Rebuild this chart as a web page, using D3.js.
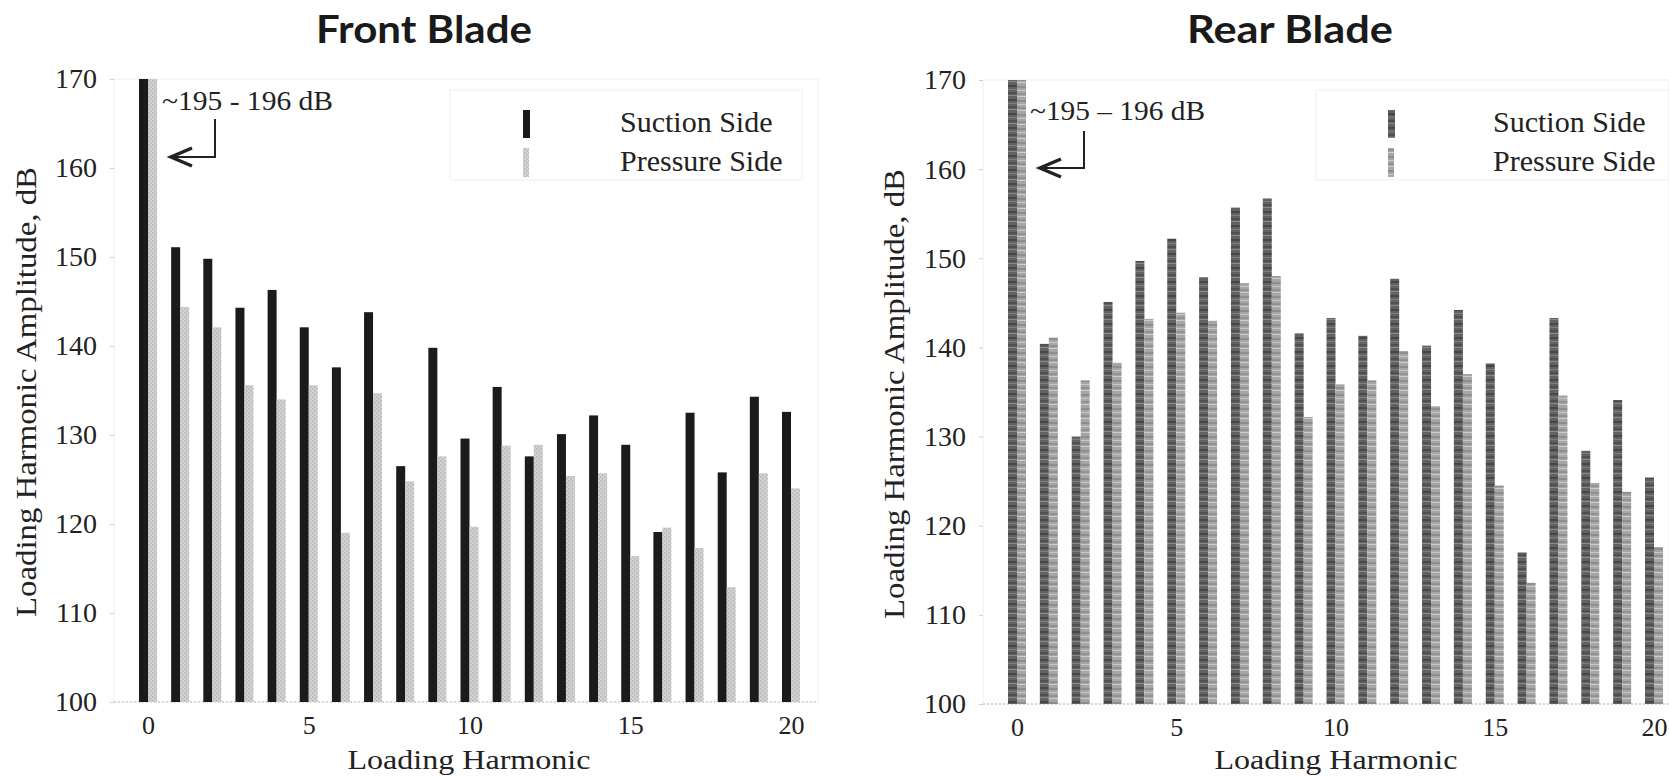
<!DOCTYPE html>
<html>
<head>
<meta charset="utf-8">
<script src="https://cdn.jsdelivr.net/npm/d3@7/dist/d3.min.js"></script>
<style>
  html, body { margin: 0; padding: 0; background: #fff; }
  svg { display: block; }
</style>
</head>
<body>
<svg id="chart" width="1669" height="776"></svg>
<script>
// ---- data ----
const harmonics = [0,1,2,3,4,5,6,7,8,9,10,11,12,13,14,15,16,17,18,19,20];
const xTickValues = [0, 5, 10, 15, 20];
const yTickValues = [100, 110, 120, 130, 140, 150, 160, 170];
const seriesNames = ["Suction Side", "Pressure Side"];
const panelTitles = ["Front Blade", "Rear Blade"];
const annotationTexts = ["~195 - 196 dB", "~195 \u2013 196 dB"];
const xLabel = "Loading Harmonic";
const yLabel = "Loading Harmonic Amplitude, dB";

// harmonic 0 exceeds the axis (~195-196 dB), clipped at 170 by the scale
const frontSuction  = [195.5, 151.1, 149.8, 144.3, 146.3, 142.1, 137.6, 143.8, 126.5, 139.8, 129.6, 135.4, 127.6, 130.1, 132.2, 128.9, 119.1, 132.5, 125.8, 134.3, 132.6];
const frontPressure = [195.5, 144.4, 142.1, 135.6, 134.0, 135.6, 119.0, 134.7, 124.8, 127.6, 119.7, 128.8, 128.9, 125.4, 125.7, 116.4, 119.6, 117.3, 112.9, 125.7, 124.0];
const rearSuction   = [195.5, 140.4, 130.0, 145.1, 149.7, 152.2, 147.9, 155.7, 156.7, 141.6, 143.3, 141.3, 147.7, 140.2, 144.2, 138.2, 117.0, 143.3, 128.4, 134.1, 125.4];
const rearPressure  = [195.5, 141.1, 136.3, 138.3, 143.2, 143.9, 143.0, 147.2, 148.0, 132.2, 135.9, 136.3, 139.6, 133.4, 137.0, 124.5, 113.6, 134.6, 124.8, 123.8, 117.6];

const svg = d3.select("#chart");
const serif = "'Liberation Serif', 'Times New Roman', serif";

// print-like textures
const defs = svg.append("defs");
function bandPattern(id, base, bands) {
  const pat = defs.append("pattern").attr("id", id).attr("patternUnits", "userSpaceOnUse")
    .attr("width", 9).attr("height", 14);
  pat.append("rect").attr("width", 9).attr("height", 14).attr("fill", base);
  bands.forEach(b => pat.append("rect").attr("x", 0).attr("y", b[0]).attr("width", 9).attr("height", b[1]).attr("fill", b[2]));
  return `url(#${id})`;
}
function dotPattern(id, base, dot) {
  const pat = defs.append("pattern").attr("id", id).attr("patternUnits", "userSpaceOnUse")
    .attr("width", 4).attr("height", 4);
  pat.append("rect").attr("width", 4).attr("height", 4).attr("fill", base);
  pat.append("rect").attr("x", 0).attr("y", 0).attr("width", 1.5).attr("height", 1.5).attr("fill", dot);
  pat.append("rect").attr("x", 2).attr("y", 2).attr("width", 1.5).attr("height", 1.5).attr("fill", dot);
  return `url(#${id})`;
}
const fillFrontP = dotPattern("fp", "#d2d2d2", "#b4b4b4");
const fillRearS = bandPattern("rs", "#626262", [[1, 2, "#474747"], [5, 1, "#7e7e7e"], [8, 2, "#505050"], [11, 1, "#8a8a8a"]]);
const fillRearP = bandPattern("rp", "#a6a6a6", [[2, 2, "#8e8e8e"], [6, 1, "#c6c6c6"], [9, 2, "#939393"], [12, 1, "#cdcdcd"]]);

const panels = [
  { title: panelTitles[0], suction: frontSuction, pressure: frontPressure,
    xr: [148, 791], yr: [702, 79], plotL: 114, plotR: 818, titleX: 424, titleW: 216,
    colS: "#1b1b1b", colP: fillFrontP,
    yLabelX: 36, yLabelY: 392, xLabelX: 469,
    legSwX: 523, legTextX: 620, legBoxL: 450, legBoxR: 802,
    ann: { text: annotationTexts[0], x: 162, y: 110, w: 171, vx: 215, vy1: 119, vy2: 157, tip: 171 } },
  { title: panelTitles[1], suction: rearSuction, pressure: rearPressure,
    xr: [1017, 1654], yr: [704, 80], plotL: 983, plotR: 1669, titleX: 1290, titleW: 206,
    colS: fillRearS, colP: fillRearP,
    yLabelX: 904, yLabelY: 394, xLabelX: 1336,
    legSwX: 1388, legTextX: 1493, legBoxL: 1316, legBoxR: 1669,
    ann: { text: annotationTexts[1], x: 1030, y: 120, w: 175, vx: 1084, vy1: 131, vy2: 168, tip: 1040 } }
];

const bw = 9;

panels.forEach((p, pi) => {
  const g = svg.append("g");
  const x = d3.scaleLinear().domain([0, 20]).range(p.xr);
  const y = d3.scaleLinear().domain([100, 170]).range(p.yr).clamp(true);

  // faint plot frame
  g.append("rect")
    .attr("x", p.plotL).attr("y", y(170)).attr("width", p.plotR - p.plotL).attr("height", y(100) - y(170))
    .attr("fill", "none").attr("stroke", "#efefef").attr("stroke-width", 1);

  // baseline (dotted)
  g.append("line")
    .attr("x1", p.plotL).attr("x2", p.plotR).attr("y1", y(100)).attr("y2", y(100))
    .attr("stroke", "#bdbdbd").attr("stroke-width", 1.2).attr("stroke-dasharray", "2,2");

  // bars
  g.append("g").selectAll("rect").data(harmonics).join("rect")
    .attr("x", d => x(d) - bw).attr("width", bw)
    .attr("y", d => y(p.suction[d])).attr("height", d => y(100) - y(p.suction[d]))
    .attr("fill", p.colS);
  g.append("g").selectAll("rect").data(harmonics).join("rect")
    .attr("x", d => x(d)).attr("width", bw)
    .attr("y", d => y(p.pressure[d])).attr("height", d => y(100) - y(p.pressure[d]))
    .attr("fill", p.colP);

  // y axis
  const ya = g.append("g").attr("transform", `translate(${p.plotL},0)`)
    .call(d3.axisLeft(y).tickValues(yTickValues).tickSize(4).tickPadding(13).tickFormat(d3.format("d")));
  ya.select(".domain").remove();
  ya.selectAll(".tick line").attr("stroke", "#cfcfcf");
  ya.selectAll(".tick text").attr("font-family", serif).attr("font-size", 28).attr("fill", "#222");

  // x axis
  const xa = g.append("g").attr("transform", `translate(0,${y(100)})`)
    .call(d3.axisBottom(x).tickValues(xTickValues).tickSize(0).tickPadding(14).tickFormat(d3.format("d")));
  xa.select(".domain").remove();
  xa.selectAll(".tick text").attr("font-family", serif).attr("font-size", 26).attr("fill", "#222");

  // axis titles
  g.append("text")
    .attr("x", p.xLabelX).attr("y", 769).attr("text-anchor", "middle")
    .attr("font-family", serif).attr("font-size", 28).attr("fill", "#222")
    .attr("textLength", 243).attr("lengthAdjust", "spacingAndGlyphs")
    .text(xLabel);
  g.append("text")
    .attr("transform", `translate(${p.yLabelX},${p.yLabelY}) rotate(-90)`)
    .attr("text-anchor", "middle")
    .attr("font-family", serif).attr("font-size", 29).attr("fill", "#222")
    .attr("textLength", 450).attr("lengthAdjust", "spacingAndGlyphs")
    .text(yLabel);

  // panel title
  g.append("text")
    .attr("x", p.titleX).attr("y", 43).attr("text-anchor", "middle")
    .attr("font-family", "Lato, 'Open Sans', sans-serif").attr("font-weight", 700)
    .attr("font-size", 38).attr("fill", "#1a1a1a")
    .attr("textLength", p.titleW).attr("lengthAdjust", "spacingAndGlyphs")
    .text(p.title);

  // legend
  g.append("rect").attr("x", p.legBoxL).attr("y", 90).attr("width", p.legBoxR - p.legBoxL).attr("height", 90)
    .attr("fill", "none").attr("stroke", "#f0f0f0");
  g.append("rect").attr("x", p.legSwX).attr("y", 110).attr("width", 7).attr("height", 28).attr("fill", p.colS);
  g.append("rect").attr("x", p.legSwX).attr("y", 148).attr("width", 6).attr("height", 29).attr("fill", p.colP);
  [seriesNames[0], seriesNames[1]].forEach((nm, k) => {
    g.append("text").attr("x", p.legTextX).attr("y", 132 + k * 39)
      .attr("font-family", serif).attr("font-size", 30).attr("fill", "#222")
      .text(nm);
  });

  // annotation
  const a = p.ann;
  g.append("text").attr("x", a.x).attr("y", a.y)
    .attr("font-family", serif).attr("font-size", 27).attr("fill", "#222")
    .attr("textLength", a.w).attr("lengthAdjust", "spacingAndGlyphs")
    .text(a.text);
  g.append("path")
    .attr("d", `M${a.vx},${a.vy1} V${a.vy2} H${a.tip + 2}`)
    .attr("fill", "none").attr("stroke", "#222").attr("stroke-width", 2);
  g.append("path")
    .attr("d", `M${a.tip + 21},${a.vy2 - 9} L${a.tip},${a.vy2} L${a.tip + 21},${a.vy2 + 9}`)
    .attr("fill", "none").attr("stroke", "#222").attr("stroke-width", 3.5).attr("stroke-linejoin", "miter");
});
</script>
</body>
</html>
